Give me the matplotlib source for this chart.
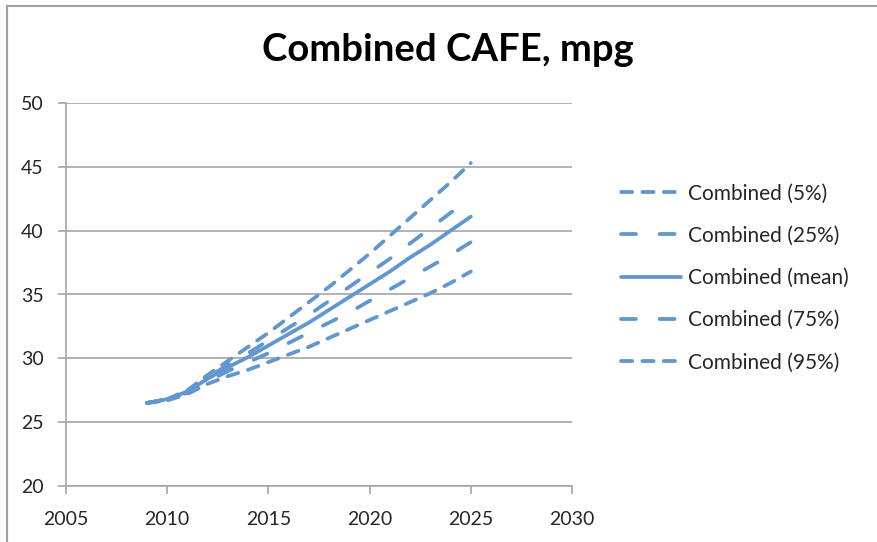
import matplotlib.pyplot as plt
from matplotlib.lines import Line2D

plt.rcParams['font.family'] = ['Lato', 'DejaVu Sans']

years = [2009, 2010, 2011, 2012, 2013, 2014, 2015, 2016, 2017,
         2018, 2019, 2020, 2021, 2022, 2023, 2024, 2025]
p5 = [26.5, 26.7, 27.2, 28.0, 28.6, 29.1, 29.7, 30.3, 30.9,
      31.6, 32.3, 33.0, 33.7, 34.4, 35.1, 35.9, 36.8]
p25 = [26.5, 26.8, 27.3, 28.2, 29.0, 29.7, 30.4, 31.2, 32.0,
       32.8, 33.6, 34.5, 35.4, 36.3, 37.2, 38.1, 39.1]
mean = [26.5, 26.8, 27.4, 28.4, 29.3, 30.1, 31.0, 31.9, 32.8,
        33.8, 34.8, 35.8, 36.8, 37.9, 38.9, 40.0, 41.1]
p75 = [26.5, 26.8, 27.4, 28.5, 29.5, 30.4, 31.4, 32.4, 33.4,
       34.5, 35.6, 36.7, 37.8, 39.0, 40.2, 41.4, 42.6]
p95 = [26.5, 26.8, 27.5, 28.7, 29.8, 30.9, 32.0, 33.2, 34.4,
       35.6, 36.9, 38.2, 39.6, 41.0, 42.4, 43.8, 45.3]

labels = ['Combined (5%)', 'Combined (25%)', 'Combined (mean)',
          'Combined (75%)', 'Combined (95%)']

color = '#6097CF'
grid_color = '#A6A6A6'
text_color = '#262626'
short_dash = (0, (3.0, 2.7))
long_dash = (0, (4.0, 6.3))
styles = [short_dash, long_dash, '-', long_dash, short_dash]

fig = plt.figure(figsize=(8.78, 5.42), dpi=100)
ax = fig.add_axes([66 / 878, 1 - 486 / 542, (572 - 66) / 878, (486 - 103) / 542])

for series, ls in zip([p5, p25, mean, p75, p95], styles):
    ax.plot(years, series, color=color, linewidth=2.7, linestyle=ls,
            dash_capstyle='round', solid_capstyle='round')

ax.set_xlim(2005, 2030)
ax.set_ylim(20, 50)
ax.set_xticks(range(2005, 2031, 5))
ax.set_yticks(range(20, 51, 5))
ax.grid(True, axis='y', color=grid_color, linewidth=1.2)
ax.set_axisbelow(True)
for side in ['top', 'right']:
    ax.spines[side].set_visible(False)
for side in ['left', 'bottom']:
    ax.spines[side].set_color(grid_color)
    ax.spines[side].set_linewidth(1.2)
ax.tick_params(axis='both', colors=grid_color, width=1.2, length=6,
               labelcolor=text_color, labelsize=14)
ax.tick_params(axis='y', pad=10)
ax.tick_params(axis='x', pad=12)

fig.text(448 / 878, 1 - 50 / 542, 'Combined CAFE, mpg', ha='center', va='center',
         fontsize=27.5, fontweight='bold', color='black')

handles = [Line2D([], [], color=color, linewidth=2.7, linestyle=ls,
                  dash_capstyle='round', solid_capstyle='round') for ls in styles]
fig.legend(handles, labels, loc='center left', bbox_to_anchor=(621 / 878, 1 - 278 / 542),
           frameon=False, fontsize=15, handlelength=2.9, handletextpad=0.34,
           labelspacing=1.07, borderpad=0, borderaxespad=0, labelcolor=text_color)

# chart area border (left and top edges only are visible)
fig.add_artist(Line2D([7 / 878, 7 / 878], [0, 1 - 6 / 542], color='#A0A0A0',
                      linewidth=1.5, transform=fig.transFigure))
fig.add_artist(Line2D([7 / 878, 1], [1 - 6 / 542, 1 - 6 / 542], color='#A0A0A0',
                      linewidth=1.5, transform=fig.transFigure))

fig.savefig('out.png', dpi=100)
